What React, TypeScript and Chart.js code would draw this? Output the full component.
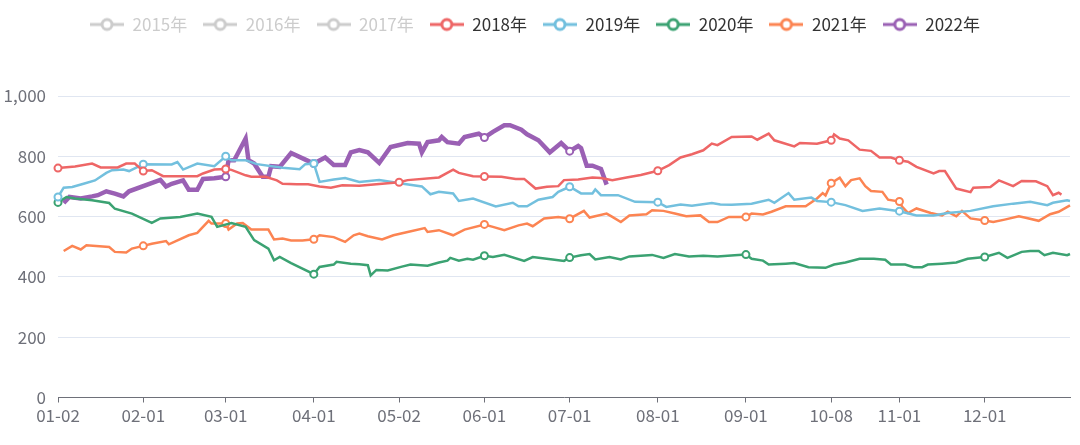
import React, { useEffect, useRef } from 'react';
import { Chart, registerables } from 'chart.js';

Chart.register(...registerables);

// ---------- categories (calendar days, holiday gaps removed) ----------
const MONTH_DAYS = [31, 29, 31, 30, 31, 30, 31, 31, 30, 31, 30, 31];
const SKIPPED_DAYS = ['01-01', '05-01', '10-01', '10-02', '10-03', '10-04', '10-05', '10-06', '10-07'];
const pad2 = (n: number) => String(n).padStart(2, '0');
const categories: string[] = [];
MONTH_DAYS.forEach((days, m) => {
  for (let d = 1; d <= days; d++) {
    const label = `${pad2(m + 1)}-${pad2(d)}`;
    if (!SKIPPED_DAYS.includes(label)) categories.push(label);
  }
});

const tickLabels = ['01-02', '02-01', '03-01', '04-01', '05-02', '06-01', '07-01', '08-01', '09-01', '10-08', '11-01', '12-01'];

const seriesNames = ['2015年', '2016年', '2017年', '2018年', '2019年', '2020年', '2021年', '2022年'];
const seriesColors = ['#5470c6', '#91cc75', '#fac858', '#ee6666', '#73c0de', '#3ba272', '#fc8452', '#9a60b4'];
const hiddenSeries = ['2015年', '2016年', '2017年'];

type Pt = [string, number];

const s2015: Pt[] = [];
const s2016: Pt[] = [];
const s2017: Pt[] = [];

const s2018: Pt[] = [
  ['01-02', 761], ['01-08', 766], ['01-14', 776], ['01-17', 763], ['01-23', 763], ['01-26', 776], ['01-29', 776],
  ['02-01', 751], ['02-04', 754], ['02-08', 734], ['02-20', 734], ['02-22', 743], ['02-26', 756],
  ['03-01', 758], ['03-03', 755], ['03-08', 737], ['03-10', 732], ['03-15', 732], ['03-19', 720], ['03-21', 709],
  ['03-26', 707], ['03-30', 707], ['04-03', 700], ['04-07', 696], ['04-11', 704], ['04-17', 702], ['04-24', 708],
  ['05-02', 714], ['05-05', 721], ['05-16', 730], ['05-21', 756], ['05-23', 745], ['05-28', 734],
  ['06-01', 733], ['06-07', 732], ['06-12', 725], ['06-15', 725], ['06-19', 693], ['06-23', 699], ['06-27', 701], ['06-29', 721],
  ['07-04', 723], ['07-09', 730], ['07-12', 728], ['07-16', 721], ['07-21', 730], ['07-26', 738],
  ['08-01', 752], ['08-05', 771], ['08-09', 796], ['08-13', 807], ['08-17', 820], ['08-20', 842], ['08-22', 837], ['08-27', 864],
  ['09-03', 866], ['09-05', 855], ['09-09', 875], ['09-11', 853], ['09-18', 833], ['09-20', 844], ['09-26', 842],
  ['10-08', 853], ['10-09', 873], ['10-11', 859], ['10-14', 853], ['10-18', 822], ['10-22', 818], ['10-25', 796], ['10-29', 796],
  ['11-01', 787], ['11-04', 782], ['11-07', 765], ['11-13', 743], ['11-15', 751], ['11-17', 751], ['11-21', 693], ['11-26', 681], ['11-27', 696],
  ['12-03', 698], ['12-06', 720], ['12-11', 701], ['12-14', 718], ['12-19', 717], ['12-23', 701], ['12-25', 671], ['12-27', 679], ['12-28', 673],
];

const s2019: Pt[] = [
  ['01-02', 665], ['01-04', 696], ['01-07', 698], ['01-11', 709], ['01-15', 720], ['01-19', 745], ['01-21', 754], ['01-25', 756], ['01-27', 751],
  ['02-01', 774], ['02-11', 773], ['02-13', 781], ['02-15', 756], ['02-20', 776], ['02-26', 767],
  ['03-01', 800], ['03-03', 787], ['03-08', 787], ['03-12', 774], ['03-21', 762], ['03-27', 757], ['03-29', 774],
  ['04-01', 776], ['04-03', 715], ['04-08', 723], ['04-12', 728], ['04-17', 715], ['04-24', 721],
  ['05-04', 708], ['05-10', 700], ['05-13', 674], ['05-16', 682], ['05-21', 677], ['05-23', 652], ['05-28', 660],
  ['06-05', 634], ['06-11', 646], ['06-13', 634], ['06-16', 634], ['06-20', 656], ['06-25', 665], ['06-27', 682],
  ['07-01', 699], ['07-05', 677], ['07-09', 677], ['07-10', 690], ['07-12', 671], ['07-18', 671], ['07-24', 649],
  ['08-01', 648], ['08-04', 632], ['08-09', 640], ['08-13', 636], ['08-20', 645], ['08-23', 640], ['08-27', 639],
  ['09-03', 643], ['09-09', 656], ['09-11', 646], ['09-16', 678], ['09-18', 656], ['09-24', 663], ['09-26', 652],
  ['10-08', 648], ['10-13', 638], ['10-19', 619], ['10-25', 627],
  ['11-01', 618], ['11-07', 604], ['11-13', 604], ['11-18', 612], ['11-26', 619],
  ['12-04', 634], ['12-11', 643], ['12-17', 649], ['12-23', 638], ['12-25', 646], ['12-30', 654], ['12-31', 652],
];

const s2020: Pt[] = [
  ['01-02', 647], ['01-05', 665], ['01-08', 660], ['01-14', 654], ['01-20', 645], ['01-22', 626], ['01-28', 610],
  ['02-04', 579], ['02-07', 594], ['02-14', 599], ['02-20', 610], ['02-25', 599], ['02-27', 566],
  ['03-03', 579], ['03-08', 566], ['03-11', 522], ['03-16', 494], ['03-18', 455], ['03-20', 466], ['03-24', 446],
  ['04-01', 409], ['04-03', 433], ['04-08', 441], ['04-09', 450], ['04-14', 444], ['04-17', 442], ['04-20', 439], ['04-21', 405], ['04-23', 423], ['04-27', 421],
  ['05-03', 434], ['05-06', 441], ['05-12', 437], ['05-16', 448], ['05-19', 454], ['05-20', 463], ['05-23', 454], ['05-26', 460], ['05-28', 457],
  ['06-01', 470], ['06-04', 466], ['06-08', 473], ['06-15', 453], ['06-18', 466], ['06-25', 458], ['06-29', 453],
  ['07-01', 464], ['07-05', 472], ['07-08', 476], ['07-10', 458], ['07-15', 466], ['07-19', 458], ['07-22', 468], ['07-30', 473],
  ['08-03', 463], ['08-07', 476], ['08-12', 468], ['08-17', 470], ['08-22', 468], ['08-28', 472],
  ['09-01', 474], ['09-03', 460], ['09-07', 454], ['09-09', 441], ['09-15', 444], ['09-18', 446], ['09-23', 432], ['09-29', 430],
  ['10-09', 441], ['10-13', 448], ['10-18', 460], ['10-23', 460], ['10-27', 457], ['10-29', 441],
  ['11-03', 441], ['11-06', 432], ['11-09', 432], ['11-11', 441], ['11-16', 444], ['11-21', 448], ['11-25', 460],
  ['12-01', 466], ['12-06', 480], ['12-09', 463], ['12-14', 483], ['12-17', 486], ['12-20', 486], ['12-22', 472], ['12-25', 480], ['12-30', 472], ['12-31', 476],
];

const s2021: Pt[] = [
  ['01-04', 486], ['01-07', 503], ['01-10', 491], ['01-12', 505], ['01-20', 499], ['01-22', 483], ['01-26', 481], ['01-28', 494],
  ['02-01', 503], ['02-04', 510], ['02-09', 519], ['02-10', 508], ['02-17', 538], ['02-20', 546], ['02-24', 586], ['02-25', 577],
  ['03-01', 577], ['03-02', 557], ['03-05', 577], ['03-07', 579], ['03-10', 557], ['03-16', 557], ['03-18', 524], ['03-21', 527], ['03-24', 521], ['03-28', 521],
  ['04-01', 525], ['04-03', 538], ['04-08', 532], ['04-12', 516], ['04-15', 538], ['04-17', 544], ['04-20', 535], ['04-25', 524], ['04-29', 538],
  ['05-05', 549], ['05-11', 562], ['05-12', 549], ['05-16', 555], ['05-21', 538], ['05-25', 557],
  ['06-01', 574], ['06-04', 566], ['06-08', 555], ['06-13', 571], ['06-16', 577], ['06-18', 568], ['06-22', 594], ['06-27', 599],
  ['07-01', 593], ['07-06', 619], ['07-08', 597], ['07-14', 610], ['07-16', 599], ['07-19', 582], ['07-22', 604], ['07-28', 608], ['07-30', 621],
  ['08-03', 619], ['08-07', 610], ['08-11', 601], ['08-16', 604], ['08-19', 582], ['08-22', 582], ['08-26', 599],
  ['09-01', 599], ['09-03', 610], ['09-07', 607], ['09-10', 616], ['09-15', 634], ['09-22', 634], ['09-26', 660], ['09-28', 678], ['09-29', 670],
  ['10-08', 711], ['10-11', 729], ['10-13', 701], ['10-15', 721], ['10-18', 727], ['10-20', 701], ['10-22', 685], ['10-26', 682], ['10-28', 656],
  ['11-01', 650], ['11-02', 632], ['11-04', 612], ['11-07', 627], ['11-12', 612], ['11-16', 604], ['11-18', 616], ['11-21', 601], ['11-23', 619], ['11-26', 594],
  ['12-01', 587], ['12-04', 582], ['12-08', 590], ['12-13', 601], ['12-15', 597], ['12-20', 586], ['12-24', 608], ['12-27', 616], ['12-31', 637],
];

const s2022: Pt[] = [
  ['01-04', 645], ['01-06', 665], ['01-10', 660], ['01-14', 667], ['01-16', 671], ['01-19', 684], ['01-22', 676], ['01-25', 667], ['01-27', 684],
  ['02-07', 722], ['02-09', 700], ['02-11', 709], ['02-15', 720], ['02-17', 689], ['02-20', 689], ['02-22', 725], ['02-26', 727],
  ['03-01', 732], ['03-02', 787], ['03-04', 787], ['03-08', 859], ['03-09', 787], ['03-11', 776], ['03-14', 732], ['03-16', 732],
  ['03-17', 767], ['03-20', 765], ['03-24', 811], ['03-29', 789],
  ['04-01', 776], ['04-05', 796], ['04-08', 771], ['04-12', 771], ['04-14', 813], ['04-17', 821], ['04-20', 813], ['04-24', 778], ['04-28', 831],
  ['05-05', 844], ['05-09', 842], ['05-10', 813], ['05-12', 847], ['05-16', 853], ['05-17', 864], ['05-19', 847], ['05-23', 842], ['05-25', 864], ['05-30', 875],
  ['06-01', 862], ['06-04', 881], ['06-08', 903], ['06-10', 903], ['06-14', 888], ['06-16', 873], ['06-20', 853], ['06-24', 813], ['06-28', 844],
  ['07-01', 817], ['07-04', 834], ['07-05', 827], ['07-07', 769], ['07-09', 769], ['07-12', 758], ['07-14', 706],
];

const seriesData: Pt[][] = [s2015, s2016, s2017, s2018, s2019, s2020, s2021, s2022];

const FONT = '"Noto Sans CJK SC", "Noto Sans", sans-serif';
const AXIS_COLOR = '#6e7079';

function makeLegendIcon(color: string): HTMLCanvasElement {
  const c = document.createElement('canvas');
  c.width = 34;
  c.height = 16;
  const g = c.getContext('2d')!;
  g.strokeStyle = color;
  g.lineWidth = 3;
  g.beginPath();
  g.moveTo(0, 8);
  g.lineTo(34, 8);
  g.stroke();
  g.beginPath();
  g.arc(17, 8, 5, 0, Math.PI * 2);
  g.fillStyle = '#ffffff';
  g.fill();
  g.stroke();
  return c;
}

const legendSpacer = {
  id: 'legendSpacer',
  beforeInit(chart: any) {
    const legend = chart.legend;
    if (!legend) return;
    const orig = legend.fit;
    legend.fit = function () {
      orig.call(this);
      this.height += 53;
    };
  },
};

export default function App() {
  const canvasRef = useRef<HTMLCanvasElement | null>(null);

  useEffect(() => {
    document.body.style.margin = '0';
    const canvas = canvasRef.current;
    if (!canvas) return;

    const datasets = seriesNames.map((name, i) => ({
      label: name,
      data: seriesData[i].map(([x, y]) => ({ x, y })),
      borderColor: seriesColors[i],
      backgroundColor: seriesColors[i],
      borderWidth: name === '2022年' ? 4.5 : 2.5,
      pointRadius: (ctx: any) => (ctx.raw && tickLabels.includes(ctx.raw.x) ? 3.5 : 0),
      pointHoverRadius: 0,
      pointBackgroundColor: '#ffffff',
      pointBorderColor: seriesColors[i],
      pointBorderWidth: 2,
      hidden: hiddenSeries.includes(name),
      tension: 0,
      fill: false,
    }));

    const chart = new Chart(canvas, {
      type: 'line',
      data: { labels: categories, datasets },
      plugins: [legendSpacer],
      options: {
        animation: false,
        responsive: false,
        events: [],
        layout: { padding: { left: 0, right: 10, top: 0, bottom: 0 } },
        plugins: {
          tooltip: { enabled: false },
          legend: {
            position: 'top',
            align: 'center',
            labels: {
              usePointStyle: true,
              pointStyleWidth: 34,
              padding: 16,
              font: { size: 17, family: FONT },
              generateLabels: (ch: any) =>
                ch.data.datasets.map((ds: any, i: number) => {
                  const off = hiddenSeries.includes(ds.label);
                  return {
                    text: ds.label,
                    fillStyle: off ? '#cccccc' : ds.borderColor,
                    strokeStyle: off ? '#cccccc' : ds.borderColor,
                    pointStyle: makeLegendIcon(off ? '#cccccc' : ds.borderColor),
                    fontColor: off ? '#cccccc' : '#333333',
                    hidden: false,
                    lineWidth: 0,
                    datasetIndex: i,
                  };
                }),
            },
          },
        },
        scales: {
          x: {
            type: 'category',
            offset: false,
            grid: { drawOnChartArea: false, drawTicks: true, tickLength: 5, color: AXIS_COLOR },
            border: { color: AXIS_COLOR, width: 1 },
            ticks: {
              autoSkip: false,
              maxRotation: 0,
              minRotation: 0,
              padding: 3,
              color: AXIS_COLOR,
              font: { size: 17, family: FONT },
              callback: (_v: any, index: number) =>
                tickLabels.includes(categories[index]) ? categories[index] : null,
            },
            afterFit: (scale: any) => {
              scale.height = 47.5;
            },
          },
          y: {
            min: 0,
            max: 1000,
            ticks: { stepSize: 200, padding: 12, color: AXIS_COLOR, font: { size: 17, family: FONT } },
            grid: { color: '#e0e6f1', drawTicks: false },
            border: { display: false },
            afterFit: (scale: any) => {
              scale.width = 58;
            },
          },
        },
      },
    } as any);

    return () => chart.destroy();
  }, []);

  return (
    <div style={{ position: 'fixed', left: 0, top: 0, width: 1080, height: 445, background: '#ffffff' }}>
      <canvas ref={canvasRef} width={1080} height={445} />
    </div>
  );
}
